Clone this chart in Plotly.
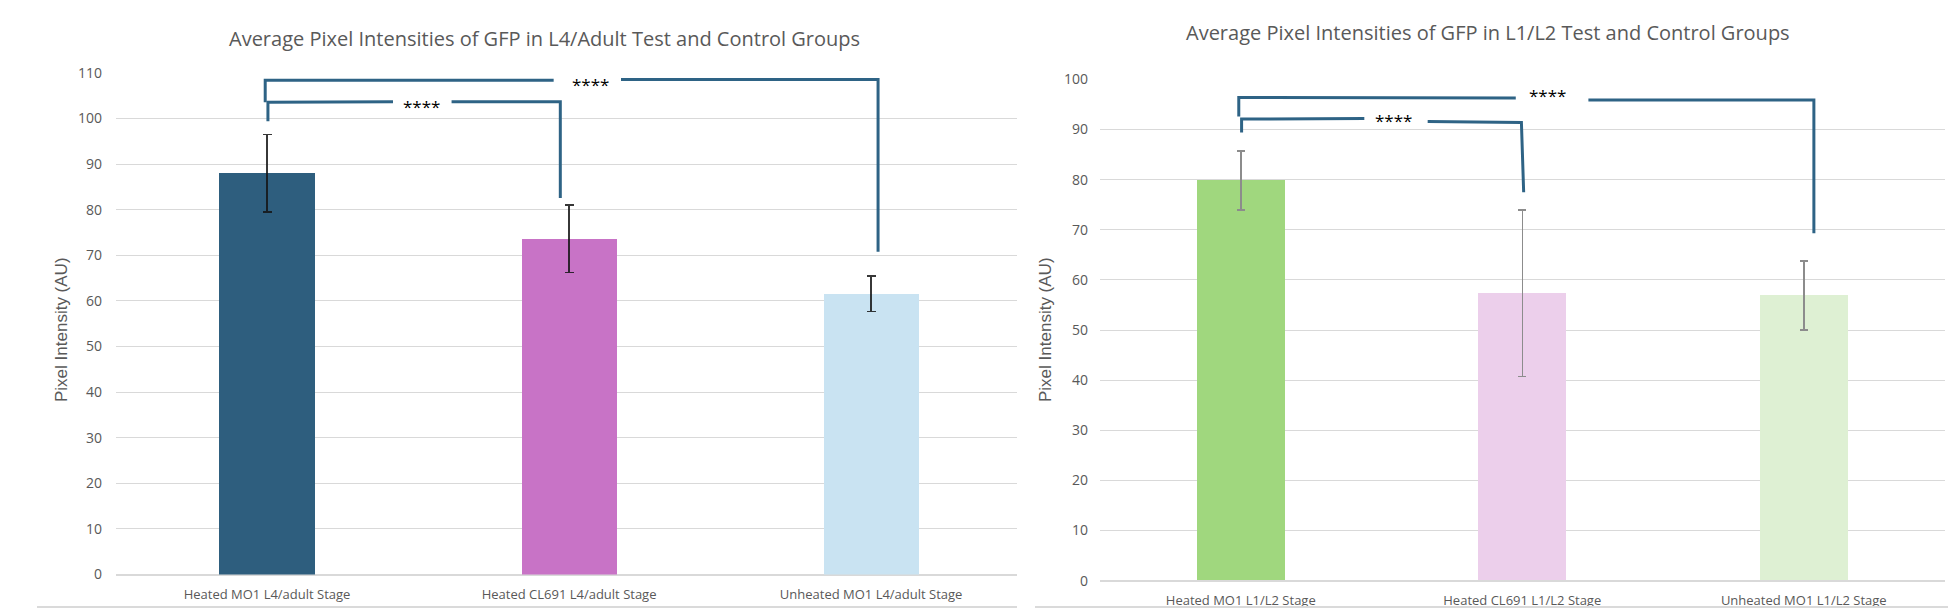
import plotly.graph_objects as go

# ---------------- data ----------------
left_categories = ["Heated MO1 L4/adult Stage", "Heated CL691 L4/adult Stage", "Unheated MO1 L4/adult Stage"]
left_means = [88.0, 73.6, 61.6]
left_errors = [8.5, 7.4, 3.9]
left_colors = ["#2E5E7E", "#C873C6", "#C9E3F2"]

right_categories = ["Heated MO1 L1/L2 Stage", "Heated CL691 L1/L2 Stage", "Unheated MO1 L1/L2 Stage"]
right_means = [79.8, 57.3, 56.9]
right_errors = [5.9, 16.6, 6.9]
right_colors = ["#A0D77E", "#ECCFEB", "#DEF0D3"]

left_title = "Average Pixel Intensities of GFP in L4/Adult Test and Control Groups"
right_title = "Average Pixel Intensities of GFP in L1/L2 Test and Control Groups"
y_title = "Pixel Intensity (AU)"
sig_label = "****"

# significance brackets (category index, value)
left_inner_x = [0.003, 0.003, 0.417, None, 0.611, 0.971, 0.971]
left_inner_y = [99.4, 103.6, 103.7, None, 103.7, 103.7, 82.6]
left_outer_x = [-0.006, -0.006, 0.949, None, 1.172, 2.023, 2.023]
left_outer_y = [103.6, 108.4, 108.4, None, 108.6, 108.6, 70.8]
left_star_x = [0.512, 1.07]
left_star_y = [103.6, 108.4]

right_inner_x = [0.003, 0.003, 0.439, None, 0.664, 0.997, 1.005]
right_inner_y = [89.4, 92.1, 92.2, None, 91.6, 91.4, 77.5]
right_outer_x = [-0.007, -0.007, 0.977, None, 1.235, 2.036, 2.036]
right_outer_y = [92.6, 96.4, 96.3, None, 95.9, 95.9, 69.3]
right_star_x = [0.544, 1.091]
right_star_y = [92.6, 97.5]

# ---------------- figure ----------------
# page has the default 8px body margin: figure of 1940x600 fills a 1956x616 window exactly
OFF = 8
W, H = 1940, 600


def px(x):
    return (x - OFF) / W


def py(y):
    return 1 - (y - OFF) / H


GRAY = "#595959"
GRID = "#D9D9D9"
BRACKET = "#2E6385"

fig = go.Figure()

fig.add_trace(go.Bar(
    x=[0, 1, 2], y=left_means, width=0.315,
    marker=dict(color=left_colors, line=dict(width=0)),
    error_y=dict(type="data", array=left_errors, color="rgba(20,20,20,0.85)", thickness=1.5, width=4.5),
    xaxis="x", yaxis="y", showlegend=False, hoverinfo="skip"))

fig.add_trace(go.Bar(
    x=[0, 1, 2], y=right_means, width=0.313,
    marker=dict(color=right_colors, line=dict(width=0)),
    error_y=dict(type="data", array=right_errors, color="#8C8C8C", thickness=1.5, width=4),
    xaxis="x2", yaxis="y2", showlegend=False, hoverinfo="skip"))

for bx, by, xa, ya in [(left_inner_x, left_inner_y, "x", "y"), (left_outer_x, left_outer_y, "x", "y"),
                       (right_inner_x, right_inner_y, "x2", "y2"), (right_outer_x, right_outer_y, "x2", "y2")]:
    fig.add_trace(go.Scatter(x=bx, y=by, mode="lines", line=dict(color=BRACKET, width=3),
                             xaxis=xa, yaxis=ya, showlegend=False, hoverinfo="skip",
                             connectgaps=False, cliponaxis=False))

star_font = dict(family="Open Sans", size=17, color="#000000")
annotations = []
for sx, sy in zip(left_star_x, left_star_y):
    annotations.append(dict(x=sx, y=sy, xref="x", yref="y", text=sig_label, showarrow=False,
                            font=star_font, yanchor="middle", yshift=-4))
for sx, sy in zip(right_star_x, right_star_y):
    annotations.append(dict(x=sx, y=sy, xref="x2", yref="y2", text=sig_label, showarrow=False,
                            font=star_font, yanchor="middle", yshift=-4))

annotations += [
    dict(x=px(544), y=py(39), xref="paper", yref="paper", text=left_title, showarrow=False,
         font=dict(family="Open Sans", size=20, color=GRAY), xanchor="center", yanchor="middle"),
    dict(x=px(1488), y=py(33), xref="paper", yref="paper", text=right_title, showarrow=False,
         font=dict(family="Open Sans", size=20, color=GRAY), xanchor="center", yanchor="middle"),
    dict(x=px(61), y=py(330), xref="paper", yref="paper", text=y_title, showarrow=False, textangle=-90,
         font=dict(family="Liberation Sans", size=17, color=GRAY), xanchor="center", yanchor="middle"),
    dict(x=px(1045), y=py(330), xref="paper", yref="paper", text=y_title, showarrow=False, textangle=-90,
         font=dict(family="Liberation Sans", size=17, color=GRAY), xanchor="center", yanchor="middle"),
]

shapes = [
    dict(type="line", xref="paper", yref="paper", x0=px(37), x1=px(1017), y0=0.0015, y1=0.0015,
         line=dict(color="#DADADA", width=2)),
    dict(type="line", xref="paper", yref="paper", x0=px(1035), x1=1.0, y0=0.0015, y1=0.0015,
         line=dict(color="#DADADA", width=2)),
]

tickfont = dict(family="Open Sans", size=14, color=GRAY)
xtickfont = dict(family="Open Sans", size=13, color=GRAY)

fig.update_layout(
    width=W, height=H,
    margin=dict(l=0, r=0, t=0, b=0, autoexpand=False),
    paper_bgcolor="white", plot_bgcolor="white",
    bargap=0,
    annotations=annotations, shapes=shapes,
    xaxis=dict(domain=[px(116), px(1017)], range=[-0.5, 2.483], tickvals=[0, 1, 2], ticktext=left_categories,
               showgrid=False, zeroline=False, showline=False, ticks="", tickfont=xtickfont,
               ticklabelstandoff=10, anchor="y", fixedrange=True),
    yaxis=dict(domain=[py(574.5), py(73)], range=[0, 110], dtick=10, showgrid=True, gridcolor=GRID,
               gridwidth=1, zeroline=True, zerolinecolor=GRID, zerolinewidth=1.5, showline=False,
               tickfont=tickfont, ticklabelstandoff=13, anchor="x", fixedrange=True),
    xaxis2=dict(domain=[px(1100), px(1944.5)], range=[-0.5, 2.5], tickvals=[0, 1, 2], ticktext=right_categories,
                showgrid=False, zeroline=False, showline=False, ticks="", tickfont=xtickfont,
                ticklabelstandoff=10, anchor="y2", fixedrange=True),
    yaxis2=dict(domain=[py(580.7), py(79.4)], range=[0, 100], dtick=10, showgrid=True, gridcolor=GRID,
                gridwidth=1, zeroline=True, zerolinecolor=GRID, zerolinewidth=1.5, showline=False,
                tickfont=tickfont, ticklabelstandoff=11, anchor="x2", fixedrange=True),
)

fig.write_html("out.html", config={"displayModeBar": False})
